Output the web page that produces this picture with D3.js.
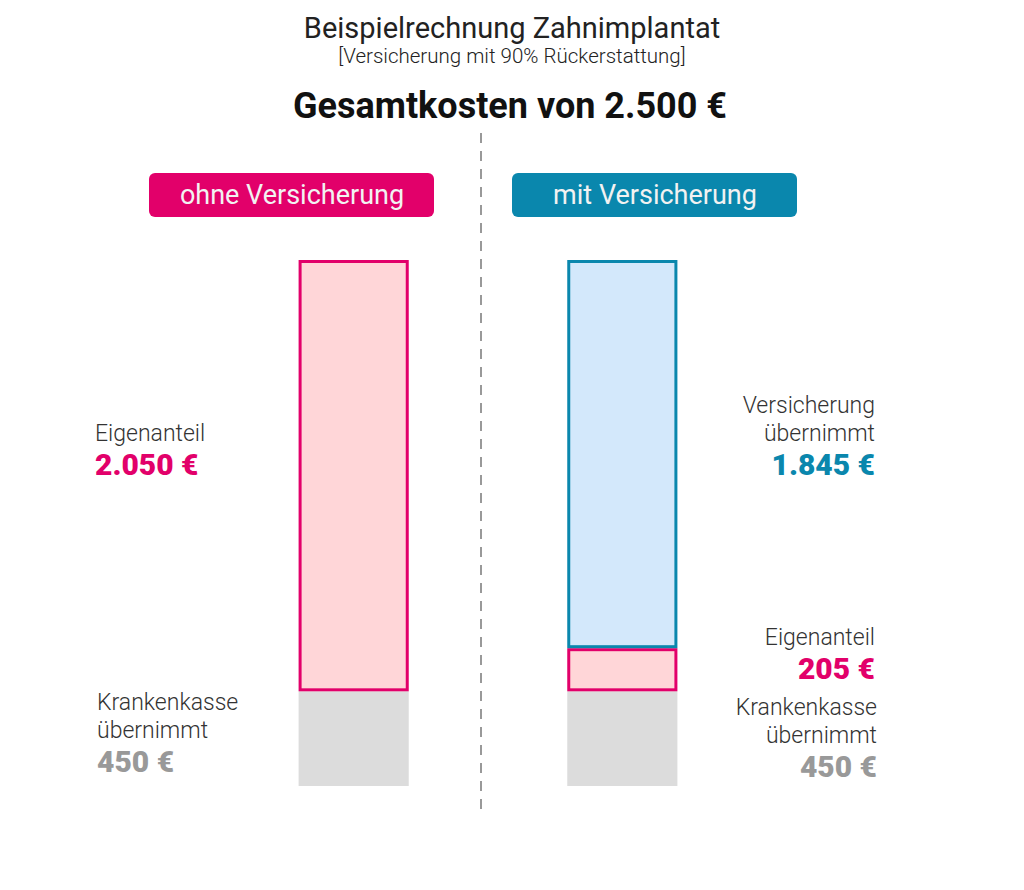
<!DOCTYPE html>
<html>
<head>
<meta charset="utf-8">
<script src="https://cdn.jsdelivr.net/npm/d3@7"></script>
<style>
  body { margin: 0; background: #fff; }
  text { font-family: Roboto, "Noto Sans", sans-serif; }
</style>
</head>
<body>
<svg id="chart"></svg>
<script>
// Zahnimplantat: Kostenaufteilung ohne / mit Versicherung

const columns = ["ohne Versicherung", "mit Versicherung"];
const parts = ["Krankenkasse", "Eigenanteil", "Versicherung"];
const ohneValues = [450, 2050, 0];
const mitValues = [450, 205, 1845];
const total = 2500;

const width = 1024, height = 890;

const svg = d3.select("#chart")
  .attr("width", width)
  .attr("height", height);

const fill = d3.scaleOrdinal().domain(parts).range(["#dcdcdc", "#ffd6d8", "#d3e8fb"]);
const stroke = d3.scaleOrdinal().domain(parts).range(["none", "#e2006a", "#0a87ad"]);
const headColor = d3.scaleOrdinal().domain(columns).range(["#e2006a", "#0a87ad"]);

const rows = columns.map((c, i) => {
  const vals = i === 0 ? ohneValues : mitValues;
  const row = { column: c };
  parts.forEach((p, j) => row[p] = vals[j]);
  return row;
});

const series = d3.stack().keys(parts)(rows);

const x = d3.scaleBand()
  .domain(columns)
  .range([218, 758])
  .paddingInner(0.59)
  .paddingOuter(0.3);

const y = d3.scaleLinear()
  .domain([0, total])
  .range([786, 260]);

const fmt = v => d3.format(",")(v).replace(/,/g, ".") + " €";

// Titles
svg.append("text")
  .attr("x", width / 2).attr("y", 38)
  .attr("text-anchor", "middle")
  .style("font-size", "29px")
  .style("fill", "#222")
  .text("Beispielrechnung Zahnimplantat");

svg.append("text")
  .attr("x", width / 2).attr("y", 63)
  .attr("text-anchor", "middle")
  .style("font-size", "20.5px")
  .style("font-weight", 300)
  .style("fill", "#222")
  .text("[Versicherung mit 90% Rückerstattung]");

svg.append("text")
  .attr("x", width / 2 - 2).attr("y", 118)
  .attr("text-anchor", "middle")
  .style("font-size", "36px")
  .style("font-weight", "bold")
  .style("fill", "#111")
  .text("Gesamtkosten von " + fmt(total));

// Divider
svg.append("line")
  .attr("x1", 481).attr("x2", 481)
  .attr("y1", 133).attr("y2", 815)
  .attr("stroke", "#999")
  .attr("stroke-width", 2)
  .attr("stroke-dasharray", "10,8");

// Column headers
const pillX = { "ohne Versicherung": 149, "mit Versicherung": 512 };
const head = svg.append("g").selectAll("g")
  .data(columns)
  .join("g")
  .attr("transform", d => `translate(${pillX[d]},173)`);

head.append("rect")
  .attr("width", 285).attr("height", 44)
  .attr("rx", 6)
  .attr("fill", d => headColor(d));

head.append("text")
  .attr("x", 143).attr("y", 31)
  .attr("text-anchor", "middle")
  .style("font-size", "27px")
  .style("fill", "#f2f2f2")
  .text(d => d);

// Bars
const bars = svg.append("g");
series.forEach(s => {
  const inset = s.key === "Krankenkasse" ? 0 : 1.5;
  bars.selectAll(null)
    .data(s.filter(d => d[1] - d[0] > 0))
    .join("rect")
    .attr("x", d => x(d.data.column) + inset)
    .attr("width", x.bandwidth() - 2 * inset)
    .attr("y", d => y(d[1]) + inset)
    .attr("height", d => y(d[0]) - y(d[1]) - 2 * inset)
    .attr("fill", fill(s.key))
    .attr("stroke", stroke(s.key))
    .attr("stroke-width", 3);
});

// Annotations
function label(xPos, yPos, anchor, lines, value, color) {
  const g = svg.append("g").attr("text-anchor", anchor);
  lines.forEach((l, i) => {
    g.append("text")
      .attr("x", xPos).attr("y", yPos + i * 28)
      .style("font-size", "23px")
      .style("font-weight", 300)
      .style("fill", "#333")
      .text(l);
  });
  g.append("text")
    .attr("x", xPos).attr("y", yPos + (lines.length - 1) * 28 + 34)
    .style("font-size", "30px")
    .style("font-weight", 900)
    .style("fill", color)
    .text(fmt(value));
}

label(95, 441, "start", ["Eigenanteil"], ohneValues[1], "#e2006a");
label(97, 710, "start", ["Krankenkasse", "übernimmt"], ohneValues[0], "#999");

label(875, 413, "end", ["Versicherung", "übernimmt"], mitValues[2], "#0a87ad");
label(875, 645, "end", ["Eigenanteil"], mitValues[1], "#e2006a");
label(877, 715, "end", ["Krankenkasse", "übernimmt"], mitValues[0], "#999");
</script>
</body>
</html>
